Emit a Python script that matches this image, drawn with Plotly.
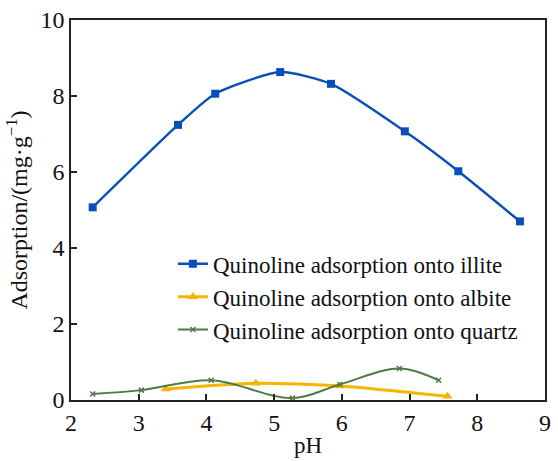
import plotly.graph_objects as go

# pH values and adsorption amounts (mg/g) for each mineral
ph_illite = [2.32, 3.58, 4.13, 5.09, 5.84, 6.93, 7.72, 8.63]
ads_illite = [5.07, 7.24, 8.06, 8.63, 8.32, 7.07, 6.02, 4.70]

ph_albite = [3.40, 4.73, 5.97, 7.56]
ads_albite = [0.29, 0.44, 0.37, 0.10]

ph_quartz = [2.32, 3.04, 4.07, 5.27, 5.97, 6.85, 7.43]
ads_quartz = [0.16, 0.26, 0.52, 0.05, 0.41, 0.83, 0.52]

x_ticks = [2, 3, 4, 5, 6, 7, 8, 9]
y_ticks = [0, 2, 4, 6, 8, 10]

font_family = "Liberation Serif"

fig = go.Figure()
fig.add_trace(go.Scatter(
    x=ph_illite, y=ads_illite, mode="lines+markers",
    name="Quinoline adsorption onto illite",
    line=dict(color="#0a4fb8", width=2.4, shape="spline", smoothing=0.6),
    marker=dict(symbol="square", size=8, color="#0a4fb8"),
))
fig.add_trace(go.Scatter(
    x=ph_albite, y=ads_albite, mode="lines+markers",
    name="Quinoline adsorption onto albite",
    line=dict(color="#f7b500", width=3, shape="spline", smoothing=0.6),
    marker=dict(symbol="triangle-up", size=9, color="#f7b500"),
))
fig.add_trace(go.Scatter(
    x=ph_quartz, y=ads_quartz, mode="lines+markers",
    name="Quinoline adsorption onto quartz",
    line=dict(color="#4f7a45", width=2, shape="spline", smoothing=1.0),
    marker=dict(symbol="x-thin", size=5, color="#4f7a45",
                line=dict(color="#4f7a45", width=1.5)),
))

axis_common = dict(
    showgrid=False, zeroline=False, showline=True, linecolor="#222",
    linewidth=1.5, mirror=True, ticks="inside", ticklen=6, tickwidth=1.5,
    tickcolor="#222", tickfont=dict(family=font_family, size=24, color="#111"),
)

fig.update_layout(
    width=558, height=461,
    margin=dict(l=71, r=7, t=17, b=61),
    paper_bgcolor="white", plot_bgcolor="white",
    font=dict(family=font_family, color="#111"),
    showlegend=True,
    legend=dict(
        x=0.215, y=0.415, xanchor="left", yanchor="top",
        bgcolor="rgba(0,0,0,0)", borderwidth=0,
        font=dict(family=font_family, size=23, color="#111"),
        tracegroupgap=0, itemwidth=30,
    ),
    xaxis=dict(
        range=[2, 9], tickvals=x_ticks,
        title=dict(text="pH", font=dict(family=font_family, size=23), standoff=2),
        **axis_common,
    ),
    yaxis=dict(
        range=[0, 10], tickvals=y_ticks,
        title=dict(text="Adsorption/(mg·g<sup>−1</sup>)",
                   font=dict(family=font_family, size=24), standoff=6),
        **axis_common,
    ),
)

fig.write_html("out.html")
